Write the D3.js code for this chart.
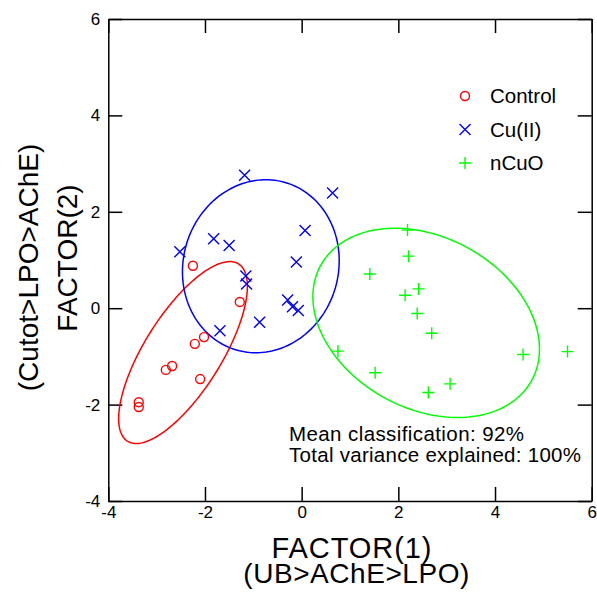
<!doctype html>
<html lang="en">
<head>
    <meta charset="UTF-8">
    <title>discriminant scores</title>
    <script src="https://d3js.org/d3.v7.min.js"></script>
    <style>
        body { margin: 0; background: #fff; }
        svg { font-family: Arial, "Liberation Sans", sans-serif; }
        .frame path.domain, .frame line { stroke: #000; stroke-width: 1.5px; }
        .frame text { font-size: 17px; fill: #000; }
    </style>
</head>
<body>
<div class="canvas"></div>
<script>
  // group names and colours
  const groups = ['Control', 'Cu(II)', 'nCuO'];
  const colors = ['#ff0000', '#0000ff', '#00ff00'];

  // FACTOR(1), FACTOR(2) scores
  const controlX = [-2.25, -1.28, -2.02, -2.21, -2.68, -2.81, -2.10, -3.37, -3.37];
  const controlY = [0.88, 0.13, -0.60, -0.74, -1.20, -1.28, -1.47, -1.95, -2.05];
  const cuX = [-1.18, 0.64, 0.07, -1.82, -1.50, -2.52, -0.11, -1.155, -1.14, -0.29, -0.19, -0.07, -0.87, -1.69];
  const cuY = [2.76, 2.39, 1.61, 1.44, 1.30, 1.17, 0.96, 0.67, 0.50, 0.17, 0.03, -0.05, -0.29, -0.47];
  const ncuoX = [2.19, 2.21, 1.41, 2.42, 2.14, 2.39, 2.69, 0.75, 4.58, 5.50, 1.52, 3.07, 2.62];
  const ncuoY = [1.62, 1.08, 0.71, 0.40, 0.27, -0.11, -0.52, -0.89, -0.96, -0.90, -1.34, -1.57, -1.75];

  const ticks = [-4, -2, 0, 2, 4, 6];
  const ellipseP = 0.75;
  const notes = ['Mean classification: 92%', 'Total variance explained: 100%'];

  const series = [
    {name: groups[0], xs: controlX, ys: controlY},
    {name: groups[1], xs: cuX, ys: cuY},
    {name: groups[2], xs: ncuoX, ys: ncuoY}
  ];

  const W = 597, H = 595;
  const svg = d3.select('.canvas').append('svg').attr('width', W).attr('height', H);

  const x = d3.scaleLinear().domain([-4, 6]).range([108.3, 591.7]);
  const y = d3.scaleLinear().domain([-4, 6]).range([501, 19]);

  // frame: ticks point inward on all four sides
  const fmt = d => String(d);
  const fr = svg.append('g').attr('class', 'frame');
  fr.append('g').attr('transform', `translate(0,${y(-4)})`)
    .call(d3.axisBottom(x).tickValues(ticks).tickFormat(fmt).tickSizeInner(-14).tickSizeOuter(0).tickPadding(5));
  fr.append('g').attr('transform', `translate(${x(-4)},0)`)
    .call(d3.axisLeft(y).tickValues(ticks).tickFormat(fmt).tickSizeInner(-14).tickSizeOuter(0).tickPadding(8));
  fr.append('g').attr('transform', `translate(0,${y(6)})`)
    .call(d3.axisTop(x).tickValues(ticks).tickSizeInner(-14).tickSizeOuter(0).tickFormat(''));
  fr.append('g').attr('transform', `translate(${x(6)},0)`)
    .call(d3.axisRight(y).tickValues(ticks).tickSizeInner(-14).tickSizeOuter(0).tickFormat(''));
  fr.selectAll('text').attr('font-family', null).attr('font-size', null);

  // confidence ellipse from the group's mean and covariance
  function ellipse(xs, ys) {
    const n = xs.length;
    const mx = d3.mean(xs), my = d3.mean(ys);
    let sxx = 0, syy = 0, sxy = 0;
    for (let i = 0; i < n; i++) {
      sxx += (xs[i] - mx) ** 2;
      syy += (ys[i] - my) ** 2;
      sxy += (xs[i] - mx) * (ys[i] - my);
    }
    sxx /= n - 1; syy /= n - 1; sxy /= n - 1;
    const nu = n - 2;
    const f = nu / 2 * (Math.pow(1 - ellipseP, -2 / nu) - 1);
    const k = Math.sqrt(2 * (n - 1) / nu * f);
    // cholesky of covariance
    const a = Math.sqrt(sxx), b = sxy / a, c = Math.sqrt(syy - b * b);
    return d3.range(0, 360, 2).map(deg => {
      const t = deg * Math.PI / 180;
      return [mx + k * a * Math.cos(t), my + k * (b * Math.cos(t) + c * Math.sin(t))];
    });
  }

  const line = d3.line().x(d => x(d[0])).y(d => y(d[1])).curve(d3.curveLinearClosed);

  series.forEach((s, i) => {
    svg.append('path')
      .attr('d', line(ellipse(s.xs, s.ys)))
      .attr('fill', 'none')
      .attr('stroke', colors[i])
      .attr('stroke-width', 1.5);
  });

  function marker(g, i, cx, cy) {
    if (i === 0) {
      g.append('circle').attr('cx', cx).attr('cy', cy).attr('r', 4.5)
        .attr('fill', 'none').attr('stroke', colors[i]).attr('stroke-width', 1.4);
    } else if (i === 1) {
      const h = 5.5;
      g.append('path').attr('d', `M${cx - h},${cy - h}L${cx + h},${cy + h}M${cx - h},${cy + h}L${cx + h},${cy - h}`)
        .attr('stroke', colors[i]).attr('stroke-width', 1.4);
    } else {
      const h = 6;
      g.append('path').attr('d', `M${cx - h},${cy}L${cx + h},${cy}M${cx},${cy - h}L${cx},${cy + h}`)
        .attr('stroke', colors[i]).attr('stroke-width', 1.4);
    }
  }

  series.forEach((s, i) => {
    const g = svg.append('g');
    s.xs.forEach((v, j) => marker(g, i, x(v), y(s.ys[j])));
  });

  // legend
  const lg = svg.append('g');
  groups.forEach((name, i) => {
    const ly = 96 + i * 33.5;
    marker(lg, i, 465, ly);
    lg.append('text').attr('x', 490).attr('y', ly).attr('dy', '0.35em')
      .attr('font-size', 20.5).text(name);
  });

  // notes
  svg.selectAll('.note').data(notes).join('text')
    .attr('class', 'note')
    .attr('x', 289)
    .attr('y', (d, i) => 441 + i * 20.5)
    .attr('font-size', 20.5)
    .attr('textLength', (d, i) => i ? 292 : 235)
    .text(d => d);

  // axis titles
  svg.append('text').attr('x', 351.5).attr('y', 558).attr('text-anchor', 'middle')
    .attr('font-size', 29).attr('textLength', 160).text('FACTOR(1)');
  svg.append('text').attr('x', 356.3).attr('y', 583).attr('text-anchor', 'middle')
    .attr('font-size', 28).attr('textLength', 226).text('(UB>AChE>LPO)');
  svg.append('text').attr('transform', 'translate(77,258) rotate(-90)').attr('text-anchor', 'middle')
    .attr('font-size', 28).text('FACTOR(2)');
  svg.append('text').attr('transform', 'translate(38,267.5) rotate(-90)').attr('text-anchor', 'middle')
    .attr('font-size', 28).text('(Cutot>LPO>AChE)');
</script>
</body>
</html>
